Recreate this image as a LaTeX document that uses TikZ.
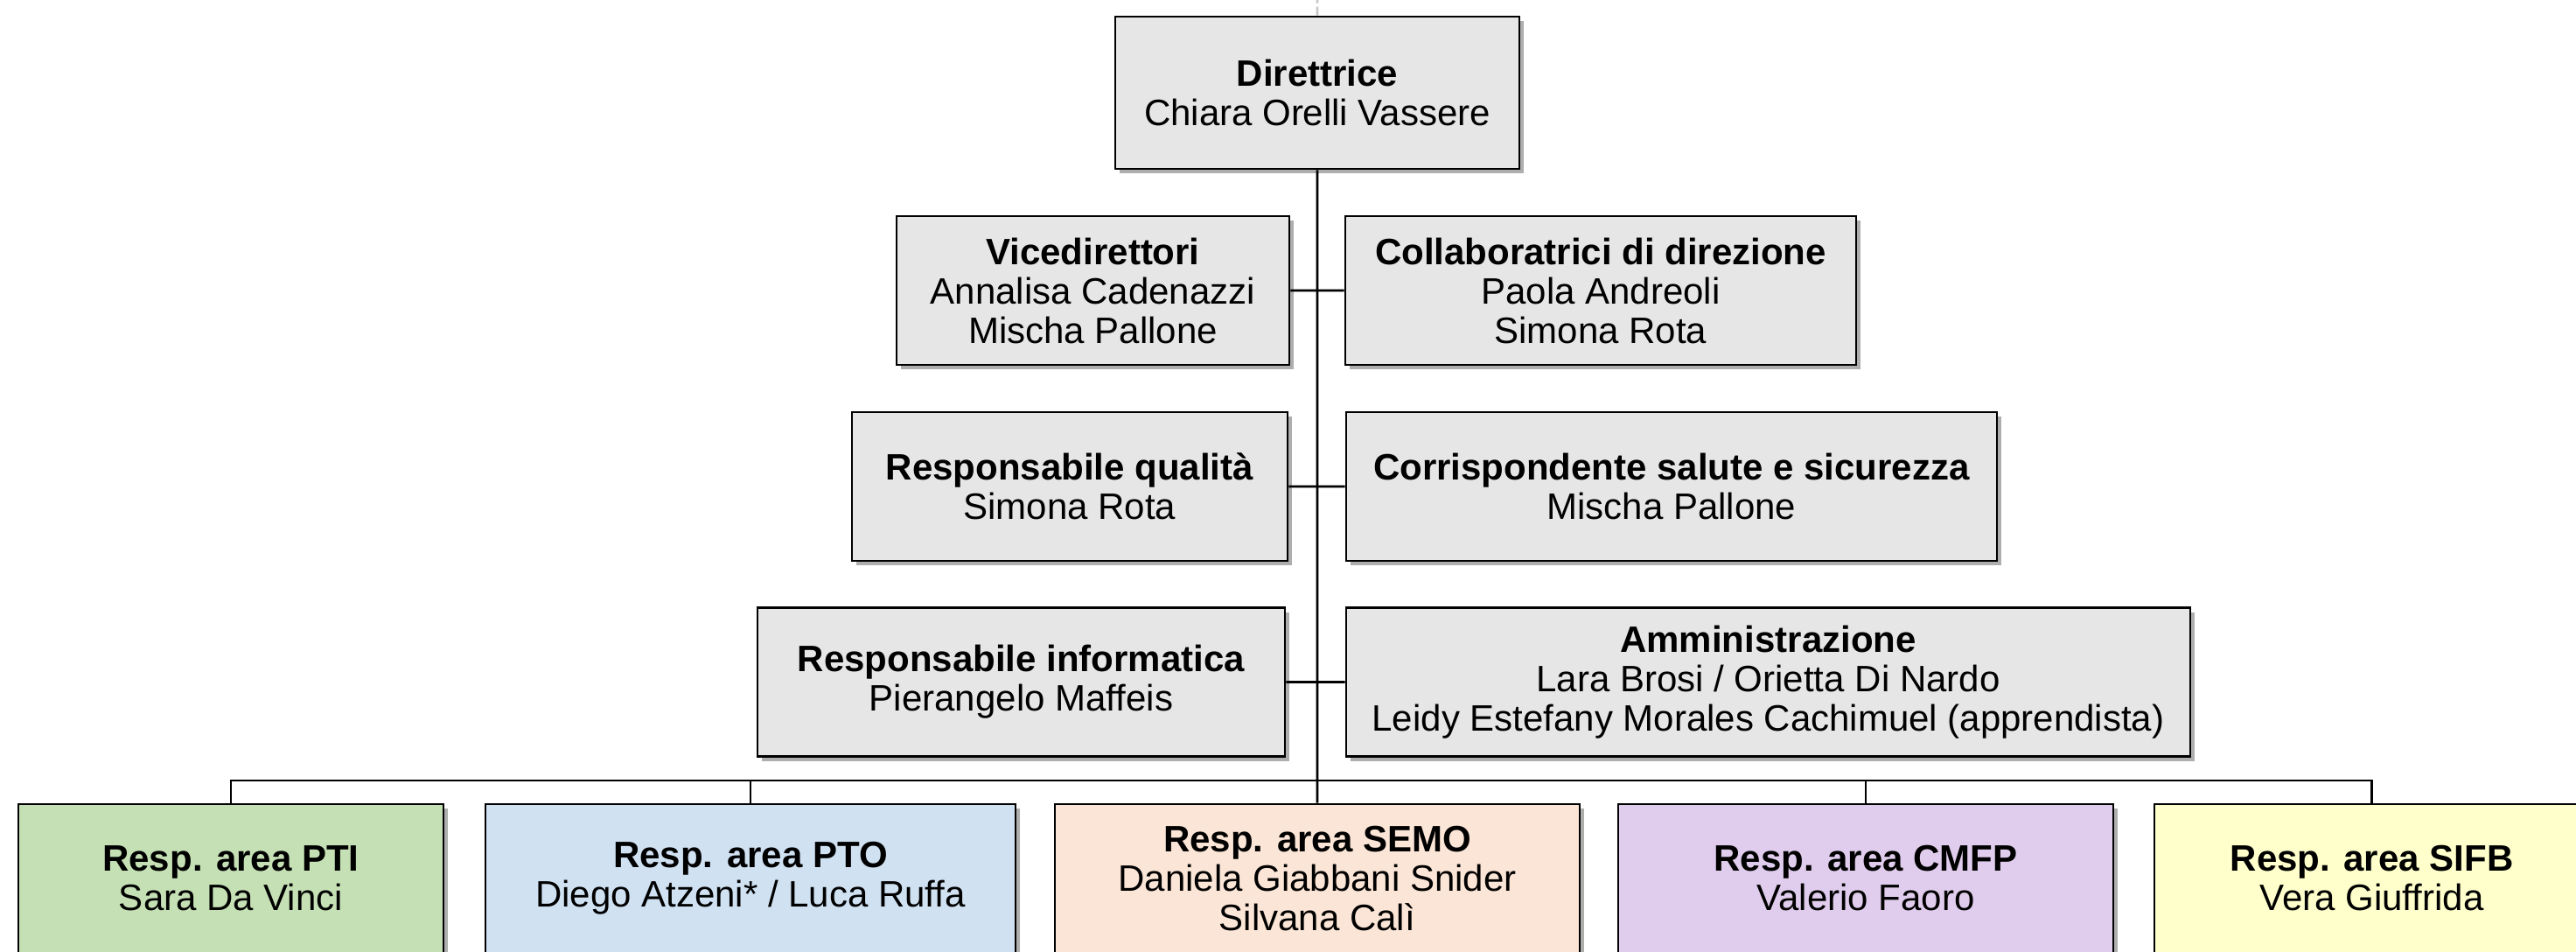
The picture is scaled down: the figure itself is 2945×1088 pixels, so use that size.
\documentclass[tikz,border=0pt]{standalone}
\usepackage{xcolor}
\usepackage{fontspec}
\setmainfont{Liberation Sans}
\usepackage{tikz}
\usetikzlibrary{shadows}
\definecolor{CE6E6E6}{HTML}{E6E6E6}
\definecolor{CC5E0B4}{HTML}{C5E0B4}
\definecolor{CD0E1F2}{HTML}{D0E1F2}
\definecolor{CFBE5D6}{HTML}{FBE5D6}
\definecolor{CE0CCEC}{HTML}{E0CCEC}
\definecolor{CFFFFCC}{HTML}{FFFFCC}
\definecolor{CC8C8C8}{HTML}{C8C8C8}

\begin{document}
\begin{tikzpicture}[inner sep=0pt,scale=0.3,
  box/.style={minimum height=51pt, draw, line width=0.8pt, align=center, font=\fontsize{12.6}{13.5}\selectfont, shape=rectangle, drop shadow={shadow xshift=1.4pt, shadow yshift=-1.6pt, fill=black!70, opacity=0.45}},
  link/.style={-, line width=0.8pt, draw}]
\clip (0pt,0pt) rectangle (2945pt,-1088pt);

\node (n0) [box, minimum height=52.2pt, minimum width=138.6pt, at={(1506pt,-106pt)}, fill=CE6E6E6] {\textbf{Direttrice}\\Chiara Orelli Vassere};

\node (n1) [box, minimum width=134.7pt, at={(1249.5pt,-332pt)}, fill=CE6E6E6] {\textbf{Vicedirettori}\\Annalisa Cadenazzi\\Mischa Pallone};
\node (n2) [box, minimum width=175.2pt, at={(1830pt,-332pt)}, fill=CE6E6E6] {\textbf{Collaboratrici di direzione}\\Paola Andreoli\\Simona Rota};
\node (n3) [box, minimum width=149.4pt, at={(1223pt,-556pt)}, fill=CE6E6E6] {\textbf{Responsabile qualità}\\Simona Rota};
\node (n4) [box, minimum width=223.2pt, at={(1911pt,-556pt)}, fill=CE6E6E6] {\textbf{Corrispondente salute e sicurezza}\\Mischa Pallone};
\node (n5) [box, minimum width=180.9pt, at={(1167.5pt,-779.5pt)}, fill=CE6E6E6] {\textbf{Responsabile informatica}\\Pierangelo Maffeis};
\node (n6) [box, minimum width=289.5pt, at={(2021.5pt,-779.5pt)}, fill=CE6E6E6] {\textbf{Amministrazione}\\Lara Brosi / Orietta Di Nardo\\Leidy Estefany Morales Cachimuel (apprendista)};

\node (n7) [box, minimum width=145.8pt, at={(264pt,-1004pt)}, fill=CC5E0B4] {\textbf{Resp. area PTI}\\Sara Da Vinci};
\node (n8) [box, minimum width=181.8pt, at={(858pt,-1004pt)}, fill=CD0E1F2] {\textbf{Resp. area PTO}\\Diego Atzeni* / Luca Ruffa};
\node (n9) [box, minimum width=180pt, at={(1506pt,-1004pt)}, fill=CFBE5D6] {\textbf{Resp. area SEMO}\\Daniela Giabbani Snider\\Silvana Calì};
\node (n10) [box, minimum width=169.8pt, at={(2133pt,-1004pt)}, fill=CE0CCEC] {\textbf{Resp. area CMFP}\\Valerio Faoro};
\node (n11) [box, minimum width=149.1pt, at={(2711.5pt,-1004pt)}, fill=CFFFFCC] {\textbf{Resp. area SIFB}\\Vera Giuffrida};

\coordinate (top) at (1506pt,0pt);
\coordinate (bus) at (1506pt,-892pt);

\path [-,line width=0.8pt,draw,CC8C8C8,dash pattern=on 3pt off 1.2pt](n0)--(top);
\path [link](n0)--(n9);
\path [link](n1)--(n2);
\path [link](n3)--(n4);
\path [link](n5)--(n6);
\path [link](n7.north) |- (bus) -| (n11.north);
\path [link](n8.north)--(n8.north |- bus);
\path [link](n10.north)--(n10.north |- bus);
\end{tikzpicture}
\end{document}
